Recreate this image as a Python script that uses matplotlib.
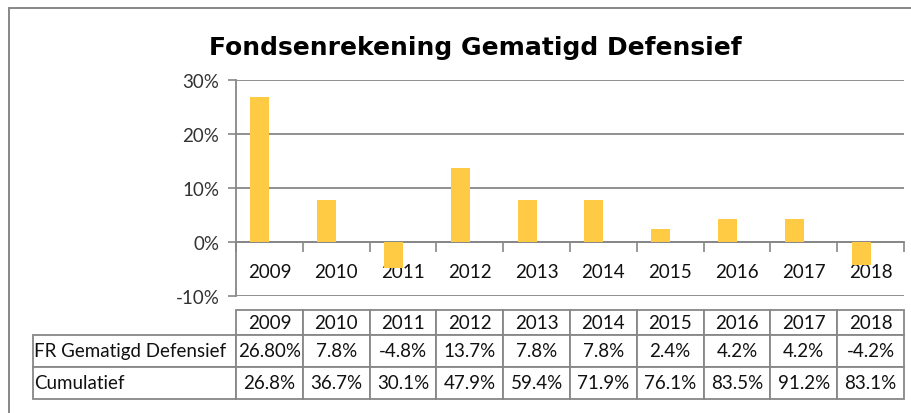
import matplotlib
matplotlib.use("Agg")
import matplotlib.pyplot as plt
import numpy as np
from matplotlib.patches import Rectangle

# data
years = ["2009", "2010", "2011", "2012", "2013", "2014", "2015", "2016", "2017", "2018"]
returns = [26.8, 7.8, -4.8, 13.7, 7.8, 7.8, 2.4, 4.2, 4.2, -4.2]
returns_txt = ["26.80%", "7.8%", "-4.8%", "13.7%", "7.8%", "7.8%", "2.4%", "4.2%", "4.2%", "-4.2%"]
cumulative_txt = ["26.8%", "36.7%", "30.1%", "47.9%", "59.4%", "71.9%", "76.1%", "83.5%", "91.2%", "83.1%"]
row_labels = ["FR Gematigd Defensief", "Cumulatief"]
yticks = [-10, 0, 10, 20, 30]

plt.rcParams['font.family'] = ['Lato', 'DejaVu Sans']
grey = '#878787'
W, H = 912, 414

fig = plt.figure(figsize=(W / 100, H / 100), dpi=100)

# outer chart border (runs past the right and bottom edges)
fig.patches.append(Rectangle((9 / W, -0.2), 1.2, (H - 9) / H + 0.2,
                             transform=fig.transFigure, fill=False,
                             edgecolor=grey, lw=1.4))

fig.text(475 / W, 1 - 55 / H, "Fondsenrekening Gematigd Defensief",
         ha='center', va='baseline', fontsize=18, fontweight='bold',
         family='DejaVu Sans')

# plot area in pixels: x 236..904, y 81..297
ax = fig.add_axes([236 / W, 1 - 297 / H, 668 / W, 216 / H])

x = np.arange(len(years))
bw = 1 / 3.5  # two series clustered, gap width 150%
ax.bar(x - bw / 2, returns, width=bw, color='#FFCA44', zorder=3)

ax.set_xlim(-0.5, len(years) - 0.5)
ax.set_ylim(-10, 30)
ax.set_yticks(yticks)
ax.set_yticklabels([f"{v}%" for v in yticks], fontsize=13.5, color='#333333')
ax.yaxis.grid(True, color=grey, lw=1.3, zorder=0)
ax.tick_params(axis='y', length=6, width=1.2, color=grey, pad=6)

for s in ['top', 'right']:
    ax.spines[s].set_visible(False)
ax.spines['left'].set_color(grey)
ax.spines['left'].set_linewidth(1.3)
ax.spines['bottom'].set_position(('data', 0))
ax.spines['bottom'].set_color(grey)
ax.spines['bottom'].set_linewidth(1.3)

ax.set_xticks(x)
ax.set_xticklabels(years, fontsize=13.5, color='#111111')
ax.set_xticks(np.arange(len(years) + 1) - 0.5, minor=True)
ax.tick_params(axis='x', which='major', length=0, pad=15)
ax.tick_params(axis='x', which='minor', length=7, width=1.2, color=grey)

# data table below the plot (bbox covers the year columns only)
label_w = 203 / 668
tbl = ax.table(cellText=[returns_txt, cumulative_txt], rowLabels=row_labels,
               colLabels=years, cellLoc='center', rowLoc='left',
               bbox=[0, (297 - 400) / 216, 1, 89 / 216])
# keep a fixed width for the label column instead of the automatic one
tbl._autoColumns = [c for c in tbl._autoColumns if c != -1]
tbl.auto_set_font_size(False)
tbl.set_fontsize(13.5)
row_h = [25, 32, 32]
for (r, c), cell in tbl.get_celld().items():
    cell.set_height(row_h[r])
    cell.set_width(label_w if c == -1 else 0.1)
    cell.set_edgecolor(grey)
    cell.set_linewidth(1.3)
    cell.get_text().set_color('#111111')
    if c == -1:
        cell.PAD = 0.005
tbl.set_clip_on(False)

fig.savefig("out.png", dpi=100)
